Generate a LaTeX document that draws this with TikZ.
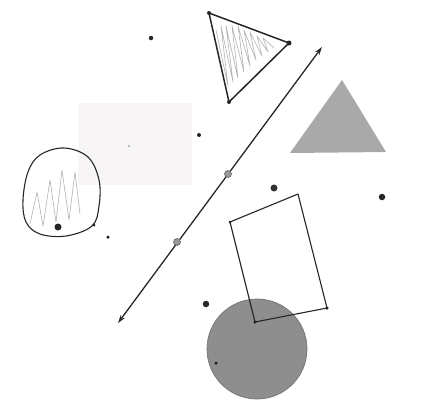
\documentclass[tikz,border=0pt]{standalone}
\usepackage{xcolor}
\usetikzlibrary{arrows.meta}

\definecolor{penink}{HTML}{262626}
\definecolor{shadetri}{HTML}{A9A9A9}
\definecolor{shadedisc}{HTML}{8E8E8E}
\definecolor{faintbox}{HTML}{F7F5F5}

\begin{document}
\begin{tikzpicture}[
  x=1pt, y=-1pt,
  pen/.style    ={draw=penink, line width=1.5pt, line join=round},
  thinpen/.style={draw=penink, line width=1.1pt, line join=round},
  scrib/.style  ={draw=black!30, line width=0.6pt, line join=round},
  disc/.style   ={fill=shadedisc, draw=black!55, line width=0.7pt},
  pt/.style     ={circle, fill=penink, inner sep=0pt, minimum size=#1},
  pt/.default   =3pt,
  gpt/.style    ={circle, fill=black!40, draw=black!60, line width=0.6pt,
                  inner sep=0pt, minimum size=7pt},
  ar/.style     ={{Stealth[length=8pt,width=5pt]}-{Stealth[length=8pt,width=5pt]},
                  draw=penink, line width=1.3pt},
]
\useasboundingbox (0,0) rectangle (440,400);
\fill[white] (0,0) rectangle (440,400);

% ---- faint box in the back ----
\fill[faintbox] (78,103) rectangle (192,185);

% ---- hatched triangle (top) ----
\coordinate (ta) at (209,13);
\coordinate (tb) at (289,43);
\coordinate (tc) at (229,102);
\begin{scope}
  \clip (ta) -- (tb) -- (tc) -- cycle;
  \draw[scrib] (216,30) -- (228,86) -- (221,26) -- (233,82) -- (226,26)
               -- (238,78) -- (232,26) -- (244,72) -- (238,26) -- (250,66)
               -- (244,30) -- (256,60) -- (250,32) -- (262,56) -- (257,36)
               -- (268,52) -- (263,38) -- (274,48);
\end{scope}
\draw[pen] (ta) -- (tb) -- (tc) -- cycle;
\node[pt=4pt] (tav) at (ta) {};
\node[pt=5pt] (tbv) at (tb) {};
\node[pt=4pt] (tcv) at (tc) {};

% ---- grey triangle ----
\coordinate (ga) at (290,153);
\coordinate (gb) at (342,80);
\coordinate (gc) at (386,152);
\fill[shadetri] (ga) -- (gb) -- (gc) -- cycle;

% ---- line with its two points ----
\coordinate (lfar) at (322,47);
\coordinate (lnear) at (118,323);
\draw[ar] (lnear) -- (lfar);
\node[gpt] (p1) at (228,174) {};
\node[gpt] (p2) at (177,242) {};

% ---- loose points ----
\node[pt=4.5pt] (d1) at (151,38) {};
\node[pt=4pt] (d2) at (199,135) {};
\node[pt=2pt, fill=black!40] (d3) at (129,146) {};
\node[pt=7pt, fill=black!80] (d4) at (274,188) {};
\node[pt=6.5pt] (d5) at (382,197) {};
\node[pt=6.5pt, fill=black!85] (d6) at (206,304) {};

% ---- blob (left) ----
\draw[scrib] (30,224) -- (37,192) -- (43,226) -- (50,180) -- (56,222)
             -- (62,170) -- (69,220) -- (75,172) -- (80,214);
\draw[thinpen] plot[smooth cycle, tension=0.6] coordinates {
  (40,155) (64,148) (88,157) (99,180) (99,206) (92,226)
  (66,236) (40,234) (26,222) (23,200) (28,172)};
\node[pt=7pt, fill=black!85] (d7) at (58,227) {};
\node[pt=3pt] (c1) at (94,225) {};
\node[pt=3.5pt] (c2) at (108,237) {};

% ---- grey disc ----
\draw[disc] (257,349) circle (50);
\node[pt=3.5pt] (d8) at (216,363) {};

% ---- quadrilateral ----
\coordinate (qa) at (230,222);
\coordinate (qb) at (298,194);
\coordinate (qc) at (327,308);
\coordinate (qd) at (255,322);
\draw[thinpen] (qa) -- (qb) -- (qc) -- (qd) -- cycle;
\node[pt=3pt] (qav) at (qa) {};
\node[pt=3.5pt] (qcv) at (qc) {};
\node[pt=3.5pt] (qdv) at (qd) {};
\end{tikzpicture}
\end{document}
